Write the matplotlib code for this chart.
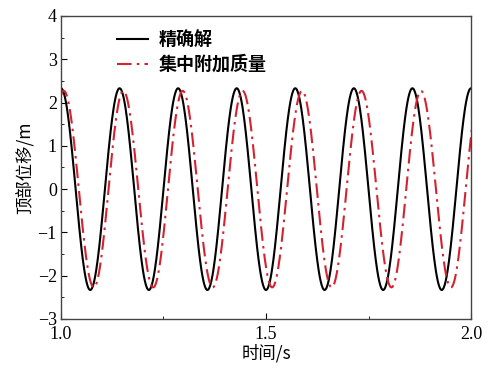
import numpy as np
import matplotlib.pyplot as plt

# extrema (time in s, top displacement in m)
exact_t = [1.0, 1.0714, 1.1429, 1.2143, 1.2857, 1.3571, 1.4286, 1.5,
           1.5714, 1.6429, 1.7143, 1.7857, 1.8571, 1.9286, 2.0]
exact_y = [2.33, -2.33, 2.33, -2.33, 2.33, -2.33, 2.33, -2.33,
           2.33, -2.33, 2.33, -2.33, 2.33, -2.33, 2.33]

lumped_t = [0.934, 1.007, 1.080, 1.152, 1.225, 1.297, 1.370, 1.443,
            1.515, 1.588, 1.660, 1.733, 1.806, 1.878, 1.951, 2.023]
lumped_y = [-2.27, 2.27, -2.27, 2.27, -2.27, 2.27, -2.27, 2.27,
            -2.27, 2.27, -2.27, 2.27, -2.27, 2.27, -2.27, 2.27]

labels = ['精确解', '集中附加质量']


def smooth_between(ts, ys, n=60):
    # half-cosine arc between each pair of neighbouring extrema
    xx, yy = [], []
    for i in range(len(ts) - 1):
        s = np.linspace(0, 1, n)
        xx.append(ts[i] + (ts[i + 1] - ts[i]) * s)
        yy.append(ys[i] + (ys[i + 1] - ys[i]) * (1 - np.cos(np.pi * s)) / 2)
    return np.concatenate(xx), np.concatenate(yy)


cjk = ['Noto Sans CJK SC', 'DejaVu Sans']
num = 'Liberation Serif'

fig = plt.figure(figsize=(4.97, 3.71), dpi=100)
ax = fig.add_axes([0.1227, 0.1402, 0.825, 0.8167])

x1, y1 = smooth_between(exact_t, exact_y)
x2, y2 = smooth_between(lumped_t, lumped_y)
ax.plot(x1, y1, color='black', lw=1.5, label=labels[0])
ax.plot(x2, y2, color='#d42330', lw=1.5, dashes=(7, 2.5, 1.2, 2.5), label=labels[1])

ax.set_xlim(1.0, 2.0)
ax.set_ylim(-3, 4)
ax.set_xticks([1.0, 1.5, 2.0])
ax.set_xticks([1.25, 1.75], minor=True)
ax.set_yticks(range(-3, 5))
ax.set_yticks(np.arange(-3, 4.01, 0.5), minor=True)
ax.set_xticklabels(['1.0', '1.5', '2.0'], fontfamily=num, fontsize=13)
ax.set_yticklabels(['\u22123', '\u22122', '\u22121', '0', '1', '2', '3', '4'],
                   fontfamily=num, fontsize=13)
ax.tick_params(which='both', direction='in', top=False, right=False)
ax.tick_params(which='major', length=4)
ax.tick_params(axis='x', which='major', pad=5)
ax.tick_params(axis='y', which='major', pad=3)
ax.tick_params(which='minor', length=2.5)
for sp in ax.spines.values():
    sp.set_color('#444444')
    sp.set_linewidth(1.0)

ax.set_xlabel('时间/s', fontfamily=cjk, fontsize=12.5, labelpad=1)
ax.set_ylabel('顶部位移/m', fontfamily=cjk, fontsize=12.5, labelpad=3)

ax.legend(loc='upper left', bbox_to_anchor=(0.137, 0.952), frameon=False,
          prop={'family': cjk, 'size': 13, 'weight': 'bold'},
          borderpad=0, borderaxespad=0,
          handlelength=1.7, handletextpad=0.6, labelspacing=0.3)

fig.savefig('out.png', dpi=100)
